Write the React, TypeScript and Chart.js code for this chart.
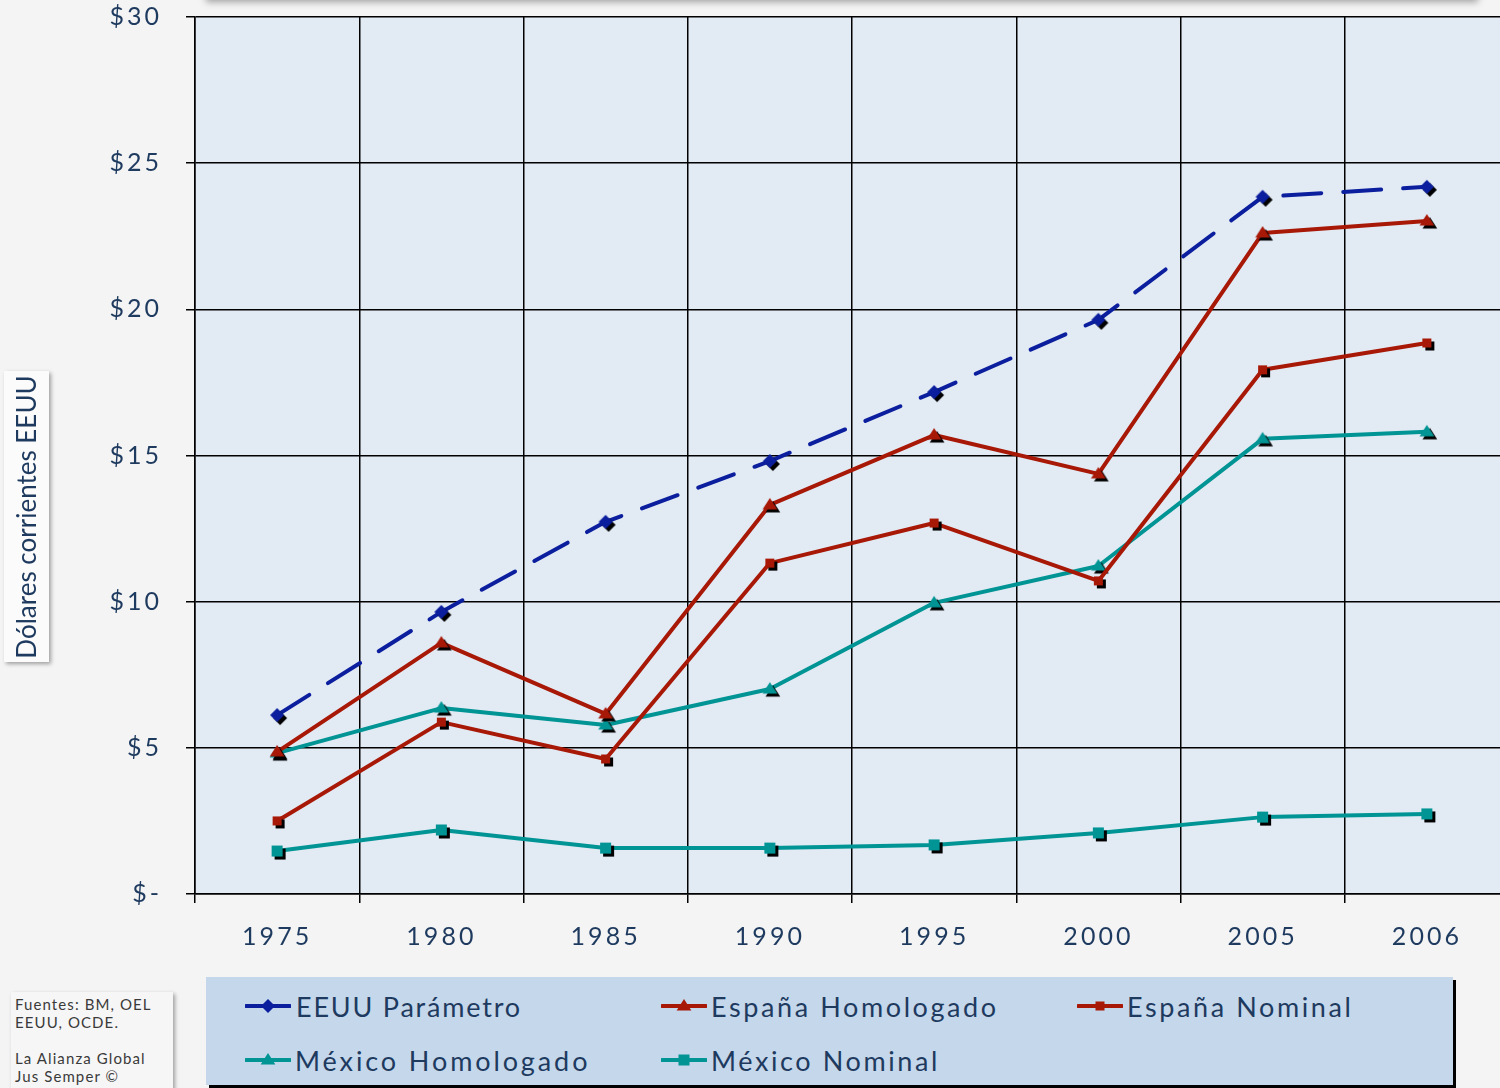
import React, { useEffect, useRef } from "react";
import { Chart, registerables } from "chart.js";

Chart.register(...registerables);

const years = ["1975", "1980", "1985", "1990", "1995", "2000", "2005", "2006"];
const eeuuParametro = [6.12, 9.65, 12.73, 14.81, 17.17, 19.64, 23.85, 24.19];
const espanaHomologado = [4.86, 8.59, 6.16, 13.31, 15.7, 14.37, 22.61, 23.02];
const espanaNominal = [2.5, 5.88, 4.62, 11.32, 12.69, 10.71, 17.93, 18.85];
const mexicoHomologado = [4.82, 6.36, 5.78, 7.01, 9.96, 11.22, 15.57, 15.81];
const mexicoNominal = [1.47, 2.19, 1.57, 1.57, 1.68, 2.09, 2.63, 2.74];
const yTickLabels = ["$-", "$5", "$10", "$15", "$20", "$25", "$30"];
const seriesNames = [
  "EEUU Parámetro",
  "España Homologado",
  "España Nominal",
  "México Homologado",
  "México Nominal",
];

const NAVY = "#0b1f9e";
const RED = "#a81806";
const TEAL = "#009494";
const TEXT = "#1e3a5f";
const FONT = "Lato, 'Open Sans', sans-serif";

type Shape = "diamond" | "triangle" | "square";

function pathShape(ctx: CanvasRenderingContext2D, shape: Shape, x: number, y: number, r: number) {
  ctx.beginPath();
  if (shape === "diamond") {
    ctx.moveTo(x, y - r);
    ctx.lineTo(x + r, y);
    ctx.lineTo(x, y + r);
    ctx.lineTo(x - r, y);
  } else if (shape === "triangle") {
    ctx.moveTo(x, y - r);
    ctx.lineTo(x + r * 1.05, y + r * 0.65);
    ctx.lineTo(x - r * 1.05, y + r * 0.65);
  } else {
    ctx.rect(x - r, y - r, 2 * r, 2 * r);
  }
  ctx.closePath();
}

function makeMarker(shape: Shape, color: string, r: number) {
  const off = 3;
  const size = Math.ceil(2 * (r + off + 4));
  const c = document.createElement("canvas");
  c.width = size;
  c.height = size;
  const ctx = c.getContext("2d")!;
  const cx = size / 2;
  ctx.filter = "blur(0.7px)";
  ctx.fillStyle = "#000";
  pathShape(ctx, shape, cx + off, cx + off, r);
  ctx.fill();
  ctx.filter = "none";
  ctx.fillStyle = color;
  pathShape(ctx, shape, cx, cx, r);
  ctx.fill();
  return c;
}

const legendDefs: { shape: Shape; color: string; r: number; dash: boolean }[] = [
  { shape: "diamond", color: NAVY, r: 7, dash: true },
  { shape: "triangle", color: RED, r: 7, dash: false },
  { shape: "square", color: RED, r: 4.5, dash: false },
  { shape: "triangle", color: TEAL, r: 7, dash: false },
  { shape: "square", color: TEAL, r: 5.5, dash: false },
];

function LegendSymbol({ shape, color, r }: { shape: Shape; color: string; r: number }) {
  let el: React.ReactNode;
  const x = 23, y = 12;
  if (shape === "diamond") {
    el = <polygon points={`${x},${y - r} ${x + r},${y} ${x},${y + r} ${x - r},${y}`} fill={color} />;
  } else if (shape === "triangle") {
    el = <polygon points={`${x},${y - r} ${x + r * 1.05},${y + r * 0.65} ${x - r * 1.05},${y + r * 0.65}`} fill={color} />;
  } else {
    el = <rect x={x - r} y={y - r} width={2 * r} height={2 * r} fill={color} />;
  }
  return (
    <svg width={46} height={24} style={{ display: "block" }}>
      <line x1={1} y1={y} x2={45} y2={y} stroke={color} strokeWidth={4} strokeLinecap="round" />
      {el}
    </svg>
  );
}

export default function App() {
  const ref = useRef<HTMLCanvasElement | null>(null);

  useEffect(() => {
    const canvas = ref.current!;
    const spacingPlugin = {
      id: "spacingPlugin",
      beforeUpdate(chart: any) {
        (chart.ctx as any).letterSpacing = "3px";
      },
      beforeDraw(chart: any) {
        (chart.ctx as any).letterSpacing = "3px";
      },
    };
    const bgPlugin = {
      id: "bgPlugin",
      beforeDraw(chart: any) {
        const { ctx, chartArea } = chart;
        ctx.save();
        ctx.fillStyle = "#e2eaf4";
        ctx.fillRect(chartArea.left, chartArea.top, chartArea.right - chartArea.left, chartArea.bottom - chartArea.top);
        ctx.restore();
      },
    };
    const dataArrays = [eeuuParametro, espanaHomologado, espanaNominal, mexicoHomologado, mexicoNominal];
    const chart = new Chart(canvas, {
      type: "line",
      data: {
        labels: years,
        datasets: dataArrays.map((d, i) => {
          const def = legendDefs[i];
          return {
            label: seriesNames[i],
            data: d,
            borderColor: def.color,
            backgroundColor: def.color,
            borderWidth: 4,
            borderDash: def.dash ? [38, 22] : [],
            borderCapStyle: def.dash ? "round" : "butt",
            borderJoinStyle: "round",
            pointStyle: makeMarker(def.shape, def.color, def.r),
            pointRadius: 7,
            tension: 0,
            fill: false,
          } as any;
        }),
      },
      options: {
        responsive: false,
        animation: false,
        layout: { padding: { top: 17, right: 1, left: 0, bottom: 0 } },
        plugins: { legend: { display: false }, tooltip: { enabled: false } },
        scales: {
          x: {
            offset: true,
            grid: { offset: true, color: "#000", lineWidth: 1.5, tickLength: 9, drawTicks: true },
            border: { display: true, color: "#000", width: 1.5 },
            ticks: { color: TEXT, font: { family: FONT, size: 25 }, padding: 19, maxRotation: 0 },
            afterFit: (s: any) => {
              s.height = 66;
              s.paddingLeft = 0;
              s.paddingRight = 0;
            },
          },
          y: {
            min: 0,
            max: 30,
            grid: { color: "#000", lineWidth: 1.5, tickLength: 9, drawTicks: true },
            border: { display: true, color: "#000", width: 1.5 },
            ticks: {
              stepSize: 5,
              color: TEXT,
              font: { family: FONT, size: 25 },
              padding: 24,
              callback: (v: any) => yTickLabels[Math.round(Number(v) / 5)],
            },
            afterFit: (s: any) => {
              s.width = 195;
              s.paddingTop = 0;
              s.paddingBottom = 0;
            },
          },
        },
      },
      plugins: [spacingPlugin, bgPlugin],
    });
    return () => chart.destroy();
  }, []);

  const legendPos = [
    { left: 245, top: 994 },
    { left: 661, top: 994 },
    { left: 1077, top: 994 },
    { left: 245, top: 1048 },
    { left: 661, top: 1048 },
  ];

  return (
    <div
      style={{
        position: "fixed",
        left: 0,
        top: 0,
        width: 1500,
        height: 1088,
        overflow: "hidden",
        background: "#f4f4f4",
        fontFamily: FONT,
      }}
    >
      <div
        style={{
          position: "absolute",
          left: 206,
          top: -60,
          width: 1272,
          height: 60,
          background: "#f4f4f4",
          boxShadow: "0 2px 7px rgba(0,0,0,0.35)",
        }}
      />
      <canvas ref={ref} width={1520} height={960} style={{ position: "absolute", left: 0, top: 0, width: 1520, height: 960 }} />
      <div
        style={{
          position: "absolute",
          left: 4,
          top: 371,
          width: 45,
          height: 291,
          background: "#fbfbfb",
          boxShadow: "2px 2px 4px rgba(0,0,0,0.35)",
        }}
      >
        <div
          style={{
            position: "absolute",
            left: 22,
            top: 146,
            transform: "translate(-50%, -50%) rotate(-90deg)",
            whiteSpace: "nowrap",
            fontSize: 26,
            color: TEXT,
          }}
        >
          Dólares corrientes EEUU
        </div>
      </div>
      <div
        style={{
          position: "absolute",
          left: 11,
          top: 992,
          width: 162,
          height: 110,
          background: "#f6f6f6",
          boxShadow: "2px 2px 4px rgba(0,0,0,0.35)",
          fontSize: 15,
          letterSpacing: "1.1px",
          lineHeight: "18px",
          color: "#3a3a3a",
          padding: "3px 0 0 4px",
          boxSizing: "border-box",
          whiteSpace: "nowrap",
        }}
      >
        Fuentes: BM, OEL
        <br />
        EEUU, OCDE.
        <br />
        <br />
        La Alianza Global
        <br />
        Jus Semper ©
      </div>
      <div
        style={{
          position: "absolute",
          left: 206,
          top: 977,
          width: 1247,
          height: 108,
          background: "#c4d7eb",
          boxShadow: "3px 3px 0 #000",
        }}
      />
      {seriesNames.map((name, i) => (
        <div
          key={name}
          style={{
            position: "absolute",
            left: legendPos[i].left,
            top: legendPos[i].top,
            display: "flex",
            alignItems: "center",
            height: 24,
            whiteSpace: "nowrap",
          }}
        >
          <LegendSymbol shape={legendDefs[i].shape} color={legendDefs[i].color} r={legendDefs[i].r} />
          <span
            style={{
              fontSize: 27,
              letterSpacing: i === 0 ? "1.8px" : i === 3 ? "2.9px" : "2.6px",
              color: TEXT,
              marginLeft: i === 0 ? 5 : 4,
            }}
          >
            {name}
          </span>
        </div>
      ))}
    </div>
  );
}
